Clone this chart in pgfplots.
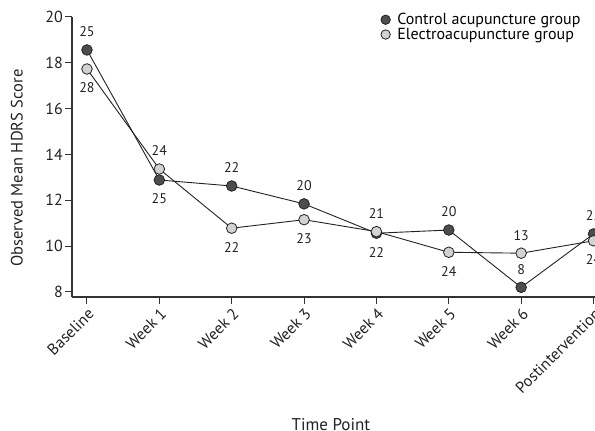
\documentclass[border=0pt]{standalone}
\usepackage{pgfplots}
\pgfplotsset{compat=1.18}
\usepackage{fontspec}
\setmainfont{PT Sans}
\definecolor{darkm}{HTML}{4D4D4D}
\definecolor{lightm}{HTML}{D2D2D2}
\definecolor{edge}{HTML}{222222}
\definecolor{axc}{HTML}{333333}
\pgfplotsset{
 lblup/.style={only marks, mark=none, forget plot, point meta=explicit symbolic, nodes near coords,
   every node near coord/.append style={anchor=center, yshift=18pt, text=edge, font=\fontsize{14}{16}\selectfont}},
 lbldn/.style={only marks, mark=none, forget plot, point meta=explicit symbolic, nodes near coords,
   every node near coord/.append style={anchor=center, yshift=-19pt, text=edge, font=\fontsize{14}{16}\selectfont}},
}
\begin{document}
\begin{tikzpicture}[font=\fontsize{16}{18}\selectfont]
\useasboundingbox (-72pt,-134pt) rectangle (523pt,297pt);
\clip (-72pt,-134pt) rectangle (523pt,297pt);
\begin{axis}[
  at={(0,0)}, anchor=south west,
  scale only axis, width=536pt, height=280.3pt,
  xmin=-0.207, xmax=7.2, ymin=7.78, ymax=20,
  axis x line*=bottom, axis y line*=left,
  axis line style={axc, line width=1.1pt},
  xtick={0,...,7},
  xticklabels={Baseline,Week 1,Week 2,Week 3,Week 4,Week 5,Week 6,Postintervention},
  ytick={8,10,...,20},
  tick align=outside, major tick length=7pt,
  tick style={axc, line width=1pt},
  /pgf/number format/assume math mode=true,
  ticklabel style={font=\fontsize{16}{18}\selectfont},
  xticklabel style={rotate=45, anchor=north east, inner sep=2pt, text=edge},
  yticklabel style={text=edge, inner sep=2pt},
  xlabel={Time Point}, ylabel={Observed Mean HDRS Score},
  xlabel style={at={(axis description cs:0.483,-0.454)}, anchor=center, text=edge, font=\fontsize{17}{19}\selectfont},
  ylabel style={at={(axis description cs:-0.103,0.46)}, anchor=center, text=edge, font=\fontsize{16.5}{19}\selectfont},
  legend style={at={(axis description cs:0.576,1.02)}, anchor=north west, draw=none, fill=none,
    font=\fontsize{16}{18}\selectfont, row sep=-2pt, column sep=5pt, inner sep=0pt, nodes={inner sep=2pt}},
  legend cell align=left,
  clip=false,
]
\addlegendimage{only marks, mark=*, mark size=4.7pt, mark options={fill=darkm, draw=edge, line width=0.8pt}}
\addlegendentry{Control acupuncture group}
\addlegendimage{only marks, mark=*, mark size=4.7pt, mark options={fill=lightm, draw=edge, line width=0.8pt}}
\addlegendentry{Electroacupuncture group}
% Control acupuncture group
\addplot[edge, line width=0.9pt, mark=*, mark size=5.3pt, mark options={fill=darkm, draw=edge, line width=0.8pt}, forget plot]
  coordinates {(0,18.55) (1,12.88) (2,12.62) (3,11.84) (4,10.56) (5,10.70) (6,8.20) (7,10.53)};
% Electroacupuncture group
\addplot[edge, line width=0.9pt, mark=*, mark size=5.3pt, mark options={fill=lightm, draw=edge, line width=0.8pt}, forget plot]
  coordinates {(0,17.72) (1,13.36) (2,10.78) (3,11.15) (4,10.63) (5,9.73) (6,9.69) (7,10.23)};
% sample-size labels
\addplot[lblup] coordinates {(0,18.55) [25] (2,12.62) [22] (3,11.84) [20] (5,10.70) [20] (6,8.20) [8] (7,10.53) [22]};
\addplot[lbldn] coordinates {(1,12.88) [25] (4,10.56) [22]};
\addplot[lblup] coordinates {(1,13.36) [24] (4,10.63) [21] (6,9.69) [13]};
\addplot[lbldn] coordinates {(0,17.72) [28] (2,10.78) [22] (3,11.15) [23] (5,9.73) [24] (7,10.23) [24]};
\end{axis}
\end{tikzpicture}
\end{document}
